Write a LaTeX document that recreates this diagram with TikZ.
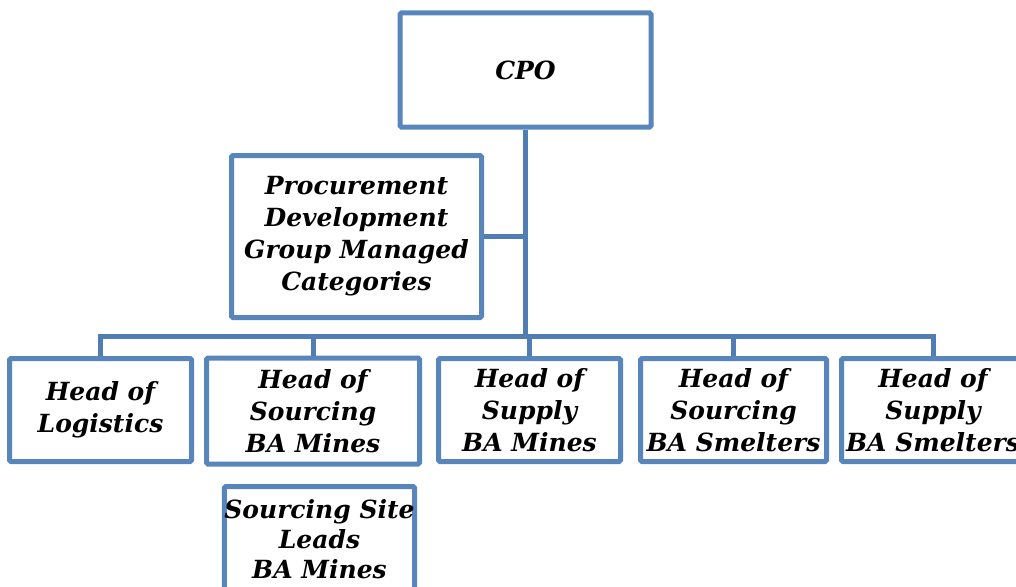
\documentclass[tikz,border=0pt]{standalone}
\usepackage{fontspec}
\setmainfont{DejaVu Serif}
\definecolor{boxblue}{RGB}{88,134,188}
\definecolor{lineblue}{RGB}{80,126,180}
\begin{document}
\begin{tikzpicture}[x=1pt,y=-1pt,
  orgbox/.style={draw=boxblue, line width=5pt, fill=white, rounded corners=1.5pt,
    align=center, inner sep=0pt,
    font=\fontsize{25}{32}\selectfont\bfseries\itshape},
  conn/.style={draw=lineblue, line width=5pt}]
\useasboundingbox (0,0) rectangle (1016,586);
\node[orgbox, minimum width=251pt, minimum height=114pt] (cpo) at (525.5,70) {CPO};
\node[orgbox, minimum width=250pt, minimum height=162pt] (pdg) at (356.5,236.5)
  {Procurement\\Development\\Group Managed\\Categories};
\node[orgbox, minimum width=182pt, minimum height=103pt] (log) at (100.5,410) {Head of\\Logistics};
\node[orgbox, minimum width=213pt, minimum height=106pt] (som) at (313,411) {Head of\\Sourcing\\BA Mines};
\node[orgbox, minimum width=182pt, minimum height=103pt] (sum) at (529.5,410) {Head of\\Supply\\BA Mines};
\node[orgbox, minimum width=186pt, minimum height=103pt] (sos) at (733.5,410) {Head of\\Sourcing\\BA Smelters};
\node[orgbox, minimum width=183pt, minimum height=103pt] (sus) at (933,410) {Head of\\Supply\\BA Smelters};
\node[orgbox, minimum width=182pt, minimum height=105pt,
  font=\fontsize{25}{30}\selectfont\bfseries\itshape] (ssl) at (319.5,539) {Sourcing Site\\Leads\\BA Mines};
\coordinate (bus) at (0,336);
\draw[conn] (cpo.south) -- (cpo.south |- bus);
\draw[conn] (pdg.east) -- (pdg.east -| cpo.south);
\draw[conn] (log.north) -- (log.north |- bus) -- (sus.north |- bus) -- (sus.north);
\draw[conn] (som.north) -- (som.north |- bus);
\draw[conn] (sum.north) -- (sum.north |- bus);
\draw[conn] (sos.north) -- (sos.north |- bus);
\end{tikzpicture}
\end{document}
